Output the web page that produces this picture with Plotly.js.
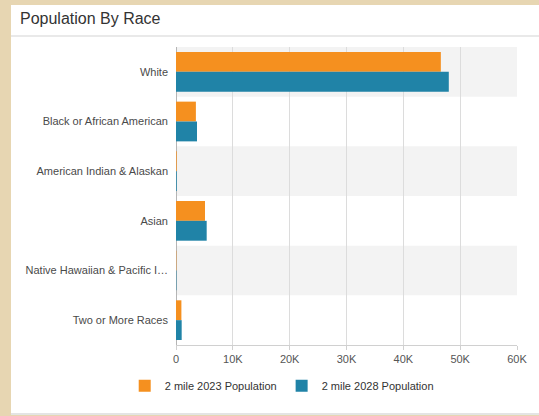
<!DOCTYPE html>
<html>
<head>
<meta charset="utf-8">
<script src="https://cdn.plot.ly/plotly-3.0.1.min.js"></script>
<style>
html,body{margin:0;padding:0;background:#e7d6b2;width:539px;height:416px;overflow:hidden;}
#chart{position:absolute;left:11px;top:5px;width:528px;height:408px;background:#fff;border-bottom:2px solid #e4e4e4;}
</style>
</head>
<body>
<div id="chart"></div>
<script>
const categories = ["White","Black or African American","American Indian & Alaskan","Asian","Native Hawaiian & Pacific I…","Two or More Races"];
const pop2023 = [46600, 3500, 120, 5100, 60, 950];
const pop2028 = [48000, 3700, 130, 5400, 70, 1000];
const seriesNames = ["2 mile 2023 Population","2 mile 2028 Population"];
const xTickVals = [0,10000,20000,30000,40000,50000,60000];
const xTickText = ["0","10K","20K","30K","40K","50K","60K"];

const traces = [
  {type:'bar', orientation:'h', name:seriesNames[0], y:categories, x:pop2023, marker:{color:'#f5901f'}, hoverinfo:'x'},
  {type:'bar', orientation:'h', name:seriesNames[1], y:categories, x:pop2028, marker:{color:'#2083a7'}, hoverinfo:'x'}
];

const shapes = [];
categories.forEach((c,i)=>{
  if(i%2===0){
    shapes.push({type:'rect', xref:'paper', yref:'y', x0:0, x1:1, y0:i-0.5, y1:i+0.5, fillcolor:'#f3f3f3', line:{width:0}, layer:'below'});
  }
});
shapes.push({type:'line', xref:'paper', yref:'paper', x0:-0.484, x1:1.07, y0:1.037, y1:1.037, line:{color:'#e2e2e2', width:1.5}});

const layout = {
  width:528, height:408,
  paper_bgcolor:'#ffffff', plot_bgcolor:'rgba(0,0,0,0)',
  margin:{l:165, r:22, t:42, b:68, autoexpand:false},
  font:{family:'Liberation Sans, Arial, sans-serif', color:'#444', size:11},
  title:{text:'Population By Race', xref:'container', x:0.017, xanchor:'left', yref:'container', y:0.966, yanchor:'middle', font:{size:16, color:'#333'}},
  barmode:'group', bargap:0.2, bargroupgap:0,
  xaxis:{range:[0,60000], tickvals:xTickVals, ticktext:xTickText, showgrid:true, gridcolor:'#dcdcdc', gridwidth:1,
         zeroline:true, zerolinecolor:'#b5b5b5', zerolinewidth:1, showline:true, linecolor:'#d0d0d0', ticks:'outside', ticklen:4, tickcolor:'#d0d0d0',
         tickfont:{size:11, color:'#555'}, fixedrange:true, automargin:false},
  yaxis:{type:'category', autorange:'reversed', showgrid:false, zeroline:false, ticks:'', ticklen:0, ticklabelstandoff:7, tickfont:{size:11, color:'#4a4a4a'}, automargin:false, fixedrange:true},
  showlegend:true,
  legend:{orientation:'h', x:0.31, xanchor:'center', y:-0.137, yanchor:'middle', font:{size:11, color:'#333'}, traceorder:'normal'},
  shapes:shapes
};
Plotly.newPlot('chart', traces, layout, {displayModeBar:false, staticPlot:true});
</script>
</body>
</html>
